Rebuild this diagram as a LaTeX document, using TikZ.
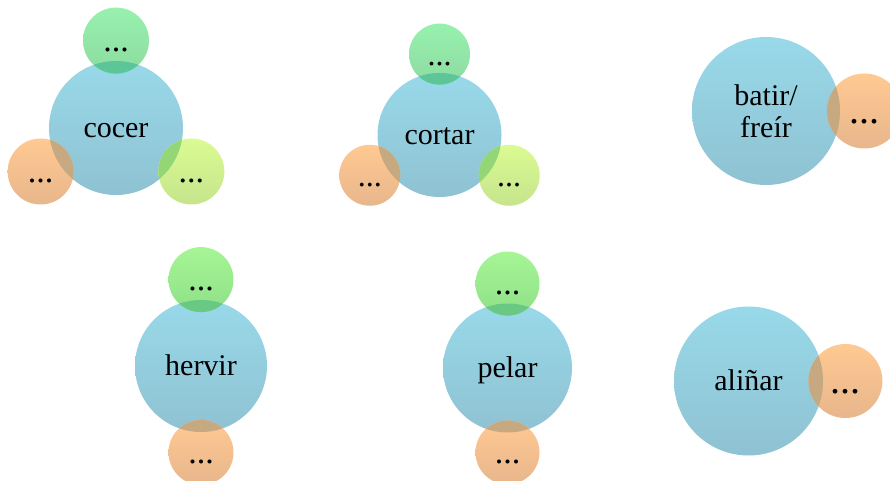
\documentclass[tikz,border=0pt]{standalone}
\usepackage{fontspec}
\setmainfont{Liberation Serif}
\usetikzlibrary{positioning}

\definecolor{blueTop}{RGB}{152,217,233}
\definecolor{blueBot}{RGB}{143,194,210}
\definecolor{mintTop}{RGB}{152,241,174}
\definecolor{mintBot}{RGB}{140,219,160}
\definecolor{leafTop}{RGB}{166,246,150}
\definecolor{leafBot}{RGB}{143,223,135}
\definecolor{orngTop}{RGB}{255,201,146}
\definecolor{orngBot}{RGB}{232,182,140}
\definecolor{limeTop}{RGB}{218,251,146}
\definecolor{limeBot}{RGB}{198,228,140}
\definecolor{mintOv}{RGB}{92,198,152}
\definecolor{leafOv}{RGB}{104,200,132}
\definecolor{orngOv}{RGB}{198,169,128}
\definecolor{limeOv}{RGB}{148,214,118}

\begin{document}
\begin{tikzpicture}[x=1pt,y=1pt,
    verb/.style={circle,inner sep=0pt,minimum size=#1,top color=blueTop,bottom color=blueBot,
                 font=\fontsize{30}{32}\selectfont,text height=20pt,text depth=0pt},
    more/.style={circle,inner sep=0pt,minimum size=#1,
                 font=\fontsize{34}{36}\selectfont,text height=22pt,text depth=0pt},
    large/.style={font=\fontsize{40}{42}\selectfont,text height=25pt},
    mint/.style={top color=mintTop,bottom color=mintBot},
    leaf/.style={top color=leafTop,bottom color=leafBot},
    orng/.style={top color=orngTop,bottom color=orngBot},
    lime/.style={top color=limeTop,bottom color=limeBot},
    over/.style n args={3}{path picture={\fill[#3] (#1) circle[radius=#2];}}]

  \useasboundingbox (0,0) rectangle (890,481);

  % top row
  \node[verb=134] (cocer) at (116,353) {cocer};
  \node[more=66,mint,over={cocer}{67}{mintOv},above=-13pt of cocer] (cocerA) {...};
  \node[more=66,orng,over={cocer}{67}{orngOv}] (cocerB) at ([shift={(210:87)}]cocer) {...};
  \node[more=66,lime,over={cocer}{67}{limeOv}] (cocerC) at ([shift={(-30:87)}]cocer) {...};

  \node[verb=124] (cortar) at (439.5,346) {cortar};
  \node[more=61,mint,over={cortar}{62}{mintOv},above=-12pt of cortar,
        font=\fontsize{32}{34}\selectfont] (cortarA) {...};
  \node[more=61,orng,over={cortar}{62}{orngOv},
        font=\fontsize{32}{34}\selectfont] (cortarB) at ([shift={(210:80.5)}]cortar) {...};
  \node[more=61,lime,over={cortar}{62}{limeOv},
        font=\fontsize{32}{34}\selectfont] (cortarC) at ([shift={(-30:80.5)}]cortar) {...};

  \node[verb=148,align=center,text height=,text depth=] (batir) at (766,370) {batir/\\freír};
  \node[more=75,orng,over={batir}{74}{orngOv},right=-13.5pt of batir,large] (batirA) {...};

  % bottom row
  \node[verb=132] (hervir) at (201,115) {hervir};
  \node[more=65,leaf,over={hervir}{66}{leafOv},above=-12.5pt of hervir] (hervirA) {...};
  \node[more=65,orng,over={hervir}{66}{orngOv},below=-12.5pt of hervir] (hervirB) {...};

  \node[verb=129] (pelar) at (507.5,113) {pelar};
  \node[more=64,leaf,over={pelar}{64.5}{leafOv},above=-12.5pt of pelar] (pelarA) {...};
  \node[more=64,orng,over={pelar}{64.5}{orngOv},below=-12.5pt of pelar] (pelarB) {...};

  \node[verb=149] (alinar) at (748.5,100) {aliñar};
  \node[more=74,orng,over={alinar}{74.5}{orngOv},right=-15pt of alinar,large] (alinarA) {...};
\end{tikzpicture}
\end{document}
